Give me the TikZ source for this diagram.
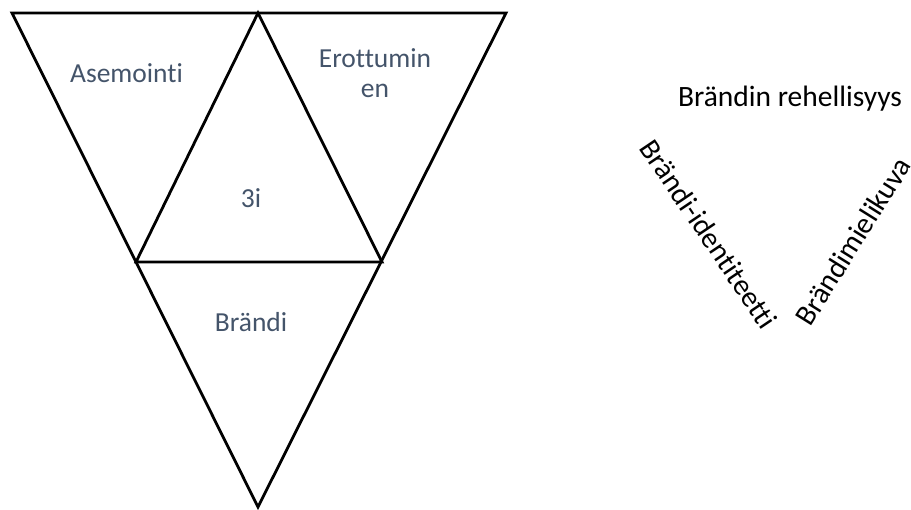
\documentclass[tikz,border=0pt]{standalone}
\usepackage{fontspec}
\setmainfont{Carlito}[Ligatures=CommonOff]
\definecolor{labelgrey}{HTML}{44546A}
\tikzset{
  edge/.style={line width=2.8pt, line join=miter, black},
  innerlbl/.style={font=\fontsize{27.5}{30}\selectfont, text=labelgrey, align=center, inner sep=0pt, anchor=base},
  sidelbl/.style={font=\fontsize{29.5}{32}\selectfont, text=black, inner sep=0pt}
}
\begin{document}
\begin{tikzpicture}[x=1pt,y=-1pt]
\useasboundingbox (0,0) rectangle (911,510);
% vertices
\coordinate (tl) at (12,13);
\coordinate (tm) at (258,13);
\coordinate (tr) at (506,13);
\coordinate (ml) at (136,262);
\coordinate (mr) at (382,262);
\coordinate (bt) at (258,507);
% outer triangle
\draw[edge] (tl) -- (tr) -- (bt) -- cycle;
% inner triangle
\draw[edge] (tm) -- (ml) -- (mr) -- cycle;
% labels
\node[innerlbl] (asem) at (126.5,83) {Asemointi};
\node[innerlbl] (erot) at (375,98) {Erottumin\\en};
\node[innerlbl] (kolme) at (251,208) {3i};
\node[innerlbl] (brandi) at (251,332) {Brändi};
% right side texts
\node[sidelbl, anchor=base] (rehel) at (790,107) {Brändin rehellisyys};
\node[sidelbl, rotate=-56] (ident) at (709,234) {Brändi-identiteetti};
\node[sidelbl, rotate=58] (mieli) at (853,241) {Brändimielikuva};
\end{tikzpicture}
\end{document}
